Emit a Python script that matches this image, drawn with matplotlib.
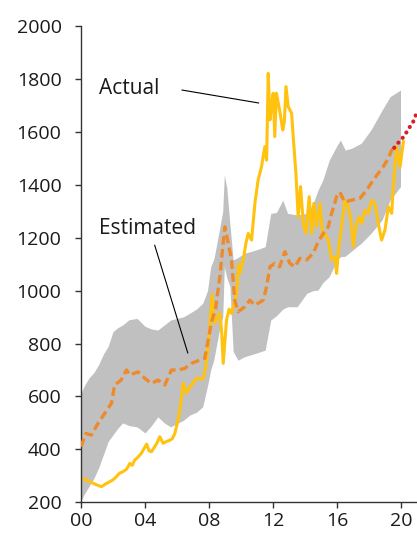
import numpy as np
import matplotlib
matplotlib.use("Agg")
import matplotlib.pyplot as plt

plt.rcParams['font.family'] = ['Open Sans', 'DejaVu Sans']

# ---- gold price, actual vs model estimate (USD/oz) ----
actual_years = [2000.0, 2000.3, 2000.55, 2000.9, 2001.27, 2001.5, 2001.8, 2002.0, 2002.2, 2002.4,
                2002.6, 2002.85, 2003.05, 2003.2, 2003.36, 2003.55, 2003.77, 2004.0, 2004.1, 2004.25,
                2004.4, 2004.6, 2004.75, 2004.92, 2005.13, 2005.35, 2005.55, 2005.7, 2005.86, 2006.06,
                2006.2, 2006.38, 2006.5, 2006.59, 2006.7, 2006.8, 2007.0, 2007.1, 2007.3, 2007.5,
                2007.63, 2007.75, 2007.84, 2007.95, 2008.04, 2008.19, 2008.28, 2008.36, 2008.5, 2008.67,
                2008.78, 2008.88, 2009.0, 2009.09, 2009.25, 2009.4, 2009.55, 2009.71, 2009.85, 2009.92,
                2010.13, 2010.3, 2010.44, 2010.65, 2010.86, 2011.06, 2011.27, 2011.48, 2011.59, 2011.69,
                2011.8, 2011.9, 2012.0, 2012.1, 2012.2, 2012.4, 2012.6, 2012.7, 2012.8, 2012.94,
                2013.15, 2013.25, 2013.42, 2013.56, 2013.71, 2013.88, 2014.04, 2014.25, 2014.4, 2014.54,
                2014.71, 2014.92, 2015.09, 2015.23, 2015.44, 2015.65, 2015.86, 2015.96, 2016.1, 2016.27,
                2016.48, 2016.69, 2016.86, 2017.0, 2017.15, 2017.36, 2017.52, 2017.73, 2017.94, 2018.15,
                2018.36, 2018.56, 2018.77, 2018.98, 2019.19, 2019.4, 2019.5, 2019.71, 2019.92, 2020.13]
actual_price = [290, 285, 278, 268, 259, 268, 278, 285, 296, 310,
                315, 325, 347, 340, 360, 370, 385, 410, 420, 395,
                391, 410, 425, 448, 423, 430, 435, 440, 460, 511,
                560, 650, 630, 612, 625, 637, 650, 662, 670, 665,
                668, 700, 737, 800, 863, 985, 900, 876, 900, 914,
                850, 725, 820, 889, 930, 914, 950, 990, 1100, 1065,
                1116, 1180, 1216, 1191, 1330, 1418, 1468, 1544, 1493, 1821,
                1645, 1700, 1746, 1582, 1746, 1682, 1607, 1640, 1771, 1695,
                1670, 1582, 1443, 1279, 1393, 1254, 1216, 1355, 1216, 1330,
                1241, 1330, 1204, 1216, 1191, 1116, 1128, 1065, 1166, 1241,
                1342, 1317, 1267, 1166, 1241, 1279, 1254, 1304, 1292, 1342,
                1330, 1254, 1191, 1229, 1317, 1292, 1393, 1544, 1468, 1563]

est_years = [2000.0, 2000.3, 2000.65, 2001.06, 2001.48, 2001.9, 2002.1, 2002.5, 2002.84, 2003.05,
             2003.56, 2004.0, 2004.4, 2004.81, 2005.23, 2005.65, 2006.06, 2006.48, 2006.9, 2007.42,
             2007.73, 2007.94, 2008.15, 2008.4, 2008.67, 2008.98, 2009.19, 2009.4, 2009.6, 2009.81,
             2010.23, 2010.54, 2010.86, 2011.38, 2011.59, 2011.8, 2012.1, 2012.4, 2012.73, 2013.04,
             2013.36, 2013.67, 2014.09, 2014.5, 2014.81, 2015.13, 2015.44, 2015.65, 2015.96, 2016.17,
             2016.45, 2016.9, 2017.42, 2017.84, 2018.25, 2018.56, 2018.87, 2019.19, 2019.4, 2019.56]
est_price = [410, 460, 454, 498, 536, 574, 643, 662, 700, 681,
             693, 668, 649, 662, 643, 700, 700, 706, 725, 738,
             744, 813, 882, 930, 1053, 1241, 1179, 1116, 964, 920,
             939, 964, 945, 964, 1015, 1090, 1103, 1090, 1147, 1103,
             1090, 1122, 1116, 1141, 1185, 1216, 1241, 1292, 1355, 1372,
             1335, 1342, 1349, 1380, 1418, 1443, 1468, 1500, 1531, 1540]

band_years = [2000.0, 2000.2, 2000.5, 2000.8, 2001.1, 2001.4, 2001.7, 2002.0, 2002.3, 2002.6,
              2003.0, 2003.5, 2004.0, 2004.4, 2004.8, 2005.2, 2005.6, 2006.0, 2006.4, 2006.8,
              2007.2, 2007.6, 2007.9, 2008.1, 2008.3, 2008.6, 2008.85, 2008.95, 2009.1, 2009.3,
              2009.5, 2009.8, 2010.2, 2010.9, 2011.5, 2011.85, 2012.2, 2012.6, 2012.9, 2013.5,
              2014.1, 2014.5, 2014.8, 2015.1, 2015.5, 2016.0, 2016.2, 2016.5, 2016.9, 2017.5,
              2018.1, 2018.8, 2019.3, 2019.95]
band_upper = [610, 640, 670, 690, 720, 760, 790, 845, 860, 870,
              890, 895, 865, 855, 851, 870, 889, 895, 901, 915,
              930, 952, 1000, 1090, 1120, 1216, 1300, 1437, 1390, 1250,
              1116, 1125, 1141, 1153, 1166, 1292, 1295, 1342, 1292, 1286,
              1292, 1330, 1380, 1418, 1493, 1550, 1569, 1531, 1538, 1557,
              1607, 1682, 1733, 1758]
band_lower = [205, 230, 260, 290, 330, 380, 430, 455, 480, 500,
              490, 485, 462, 490, 523, 500, 485, 498, 510, 530,
              540, 561, 640, 700, 740, 838, 900, 1090, 1050, 1015,
              770, 737, 750, 763, 775, 889, 905, 930, 939, 939,
              990, 1000, 1002, 1030, 1053, 1116, 1128, 1130, 1150, 1179,
              1216, 1267, 1342, 1393]

proj_years = [2019.56, 2019.9, 2020.2, 2020.45, 2020.7, 2020.95, 2021.2]
proj_price = [1540, 1565, 1585, 1612, 1632, 1670, 1700]

x_ticks = [2000, 2004, 2008, 2012, 2016, 2020]
x_ticklabels = ['00', '04', '08', '12', '16', '20']
y_ticks = list(range(200, 2001, 200))

# ---- figure ----
fig = plt.figure(figsize=(4.17, 5.37), dpi=100)
ax = fig.add_axes([0.1942, 0.0646, 0.8058, 0.8870])

ax.fill_between(band_years, band_lower, band_upper, color='#c0c0c0', lw=0, zorder=1)
ax.plot(actual_years, actual_price, color='#ffc20e', lw=2.2, zorder=2, solid_joinstyle='round')
ax.plot(est_years, est_price, color='#ef8a2b', lw=2.4, dashes=(2.6, 1.3), zorder=3)
ax.plot(proj_years, proj_price, color='#d4202c', lw=3.0, linestyle=(0, (0.01, 1.55)),
        dash_capstyle='round', zorder=4)

# labels with leader lines
txt_color = '#1a1a1a'
ax.text(2001.15, 1762, 'Actual', fontsize=15, color=txt_color, va='center', ha='left')
ax.annotate('', xy=(2011.1, 1709), xytext=(2006.3, 1758),
            arrowprops=dict(arrowstyle='-', color='black', lw=0.8, shrinkA=0, shrinkB=0))
ax.text(2001.15, 1233, 'Estimated', fontsize=15, color=txt_color, va='center', ha='left')
ax.annotate('', xy=(2006.67, 764), xytext=(2004.6, 1172),
            arrowprops=dict(arrowstyle='-', color='black', lw=0.8, shrinkA=0, shrinkB=0))

# axes styling
ax.set_xlim(2000, 2020.98)
ax.set_ylim(200, 2000)
ax.set_xticks(x_ticks)
ax.set_xticklabels(x_ticklabels)
ax.set_yticks(y_ticks)
for side in ['top', 'right']:
    ax.spines[side].set_visible(False)
for side in ['left', 'bottom']:
    ax.spines[side].set_color('#333333')
    ax.spines[side].set_linewidth(1.0)
ax.tick_params(axis='both', direction='out', length=4, width=1.0, color='#333333',
               labelsize=14, labelcolor=txt_color)
ax.tick_params(axis='y', pad=10)
ax.tick_params(axis='x', pad=3)

fig.savefig('out.png', dpi=100)
